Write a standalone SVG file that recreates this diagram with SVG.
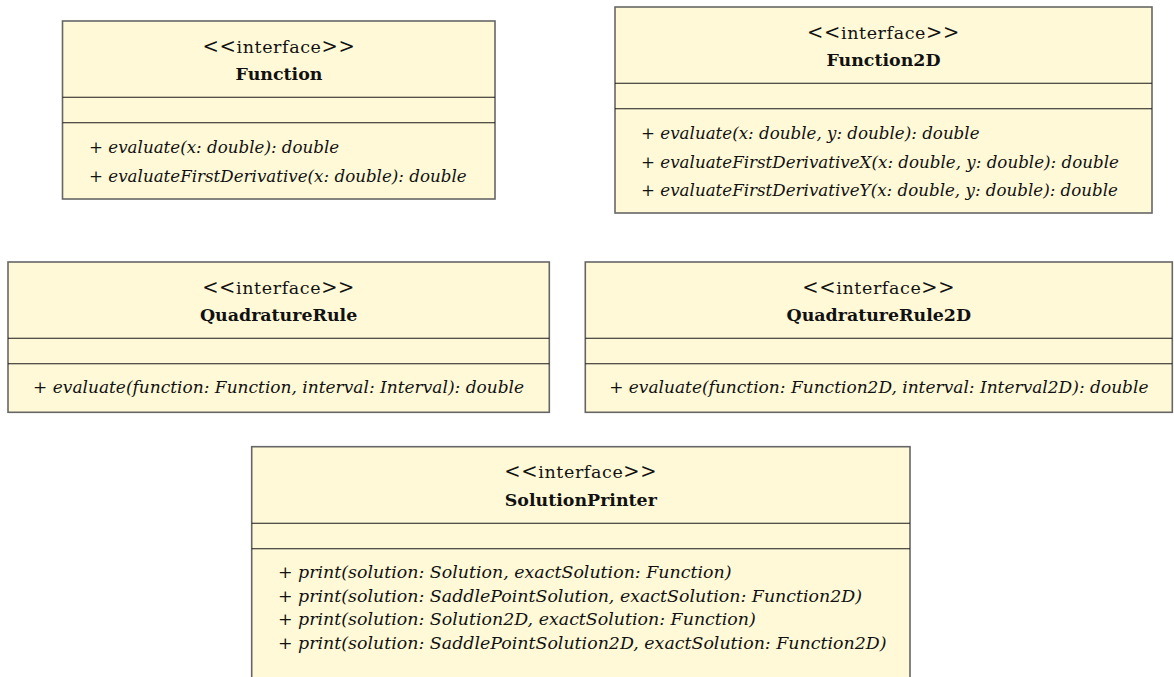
<svg xmlns="http://www.w3.org/2000/svg" width="1174" height="677" viewBox="0 0 1174 677" font-family="'DejaVu Serif', 'Liberation Serif', serif">
  <style>
    .box { fill: #FFF9D7; stroke: #666666; stroke-width: 1.6; }
    .div { stroke: #1a1a1a; stroke-width: 1.1; }
    text { fill: #111111; }
    .stereo { font-size: 17.5px; text-anchor: middle; letter-spacing: 0.6px; }
    .ang { font-size: 19.5px; }
    .name { font-size: 17.4px; font-weight: bold; text-anchor: middle; }
    .op { font-size: 16.7px; font-style: italic; }
    .opc { font-size: 17px; font-style: italic; text-anchor: middle; }
    .ops { font-size: 17.4px; font-style: italic; }
    .plus { font-style: normal; }
  </style>

  <!-- Function -->
  <g id="function">
    <rect class="box" x="62.5" y="21" width="432.5" height="178"/>
    <line class="div" x1="62.5" y1="97.3" x2="495" y2="97.3"/>
    <line class="div" x1="62.5" y1="122.7" x2="495" y2="122.7"/>
    <text class="stereo" x="279" y="52.5"><tspan class="ang">&lt;&lt;</tspan>interface<tspan class="ang">&gt;&gt;</tspan></text>
    <text class="name" x="279" y="80">Function</text>
    <text class="op" x="89" y="153.3"><tspan class="plus">+</tspan> evaluate(x: double): double</text>
    <text class="op" x="89" y="181.7"><tspan class="plus">+</tspan> evaluateFirstDerivative(x: double): double</text>
  </g>

  <!-- Function2D -->
  <g id="function2d">
    <rect class="box" x="615" y="7" width="537" height="206"/>
    <line class="div" x1="615" y1="83.3" x2="1152" y2="83.3"/>
    <line class="div" x1="615" y1="108.7" x2="1152" y2="108.7"/>
    <text class="stereo" x="883.5" y="38.5"><tspan class="ang">&lt;&lt;</tspan>interface<tspan class="ang">&gt;&gt;</tspan></text>
    <text class="name" x="883.5" y="66">Function2D</text>
    <text class="op" x="641" y="139.3"><tspan class="plus">+</tspan> evaluate(x: double, y: double): double</text>
    <text class="op" x="641" y="167.6"><tspan class="plus">+</tspan> evaluateFirstDerivativeX(x: double, y: double): double</text>
    <text class="op" x="641" y="196"><tspan class="plus">+</tspan> evaluateFirstDerivativeY(x: double, y: double): double</text>
  </g>

  <!-- QuadratureRule -->
  <g id="quadrature-rule">
    <rect class="box" x="8" y="262" width="541.3" height="150.3"/>
    <line class="div" x1="8" y1="338.3" x2="549.3" y2="338.3"/>
    <line class="div" x1="8" y1="363.8" x2="549.3" y2="363.8"/>
    <text class="stereo" x="278.6" y="293.5"><tspan class="ang">&lt;&lt;</tspan>interface<tspan class="ang">&gt;&gt;</tspan></text>
    <text class="name" x="278.6" y="321">QuadratureRule</text>
    <text class="opc" x="278.6" y="393"><tspan class="plus">+</tspan> evaluate(function: Function, interval: Interval): double</text>
  </g>

  <!-- QuadratureRule2D -->
  <g id="quadrature-rule-2d">
    <rect class="box" x="585.3" y="262" width="587" height="150.3"/>
    <line class="div" x1="585.3" y1="338.3" x2="1172.3" y2="338.3"/>
    <line class="div" x1="585.3" y1="363.8" x2="1172.3" y2="363.8"/>
    <text class="stereo" x="878.8" y="293.5"><tspan class="ang">&lt;&lt;</tspan>interface<tspan class="ang">&gt;&gt;</tspan></text>
    <text class="name" x="878.8" y="321">QuadratureRule2D</text>
    <text class="opc" x="878.8" y="393"><tspan class="plus">+</tspan> evaluate(function: Function2D, interval: Interval2D): double</text>
  </g>

  <!-- SolutionPrinter (runs past the bottom edge) -->
  <g id="solution-printer">
    <rect class="box" x="251.7" y="446.7" width="658.3" height="250"/>
    <line class="div" x1="251.7" y1="523.3" x2="910" y2="523.3"/>
    <line class="div" x1="251.7" y1="548.7" x2="910" y2="548.7"/>
    <text class="stereo" x="580.8" y="478"><tspan class="ang">&lt;&lt;</tspan>interface<tspan class="ang">&gt;&gt;</tspan></text>
    <text class="name" x="580.8" y="505.5">SolutionPrinter</text>
    <text class="ops" x="278" y="578"><tspan class="plus">+</tspan> print(solution: Solution, exactSolution: Function)</text>
    <text class="ops" x="278" y="601.5"><tspan class="plus">+</tspan> print(solution: SaddlePointSolution, exactSolution: Function2D)</text>
    <text class="ops" x="278" y="625"><tspan class="plus">+</tspan> print(solution: Solution2D, exactSolution: Function)</text>
    <text class="ops" x="278" y="648.5"><tspan class="plus">+</tspan> print(solution: SaddlePointSolution2D, exactSolution: Function2D)</text>
  </g>

  <!-- no associations are drawn between these interfaces -->
  <g id="connectors"/>
</svg>
